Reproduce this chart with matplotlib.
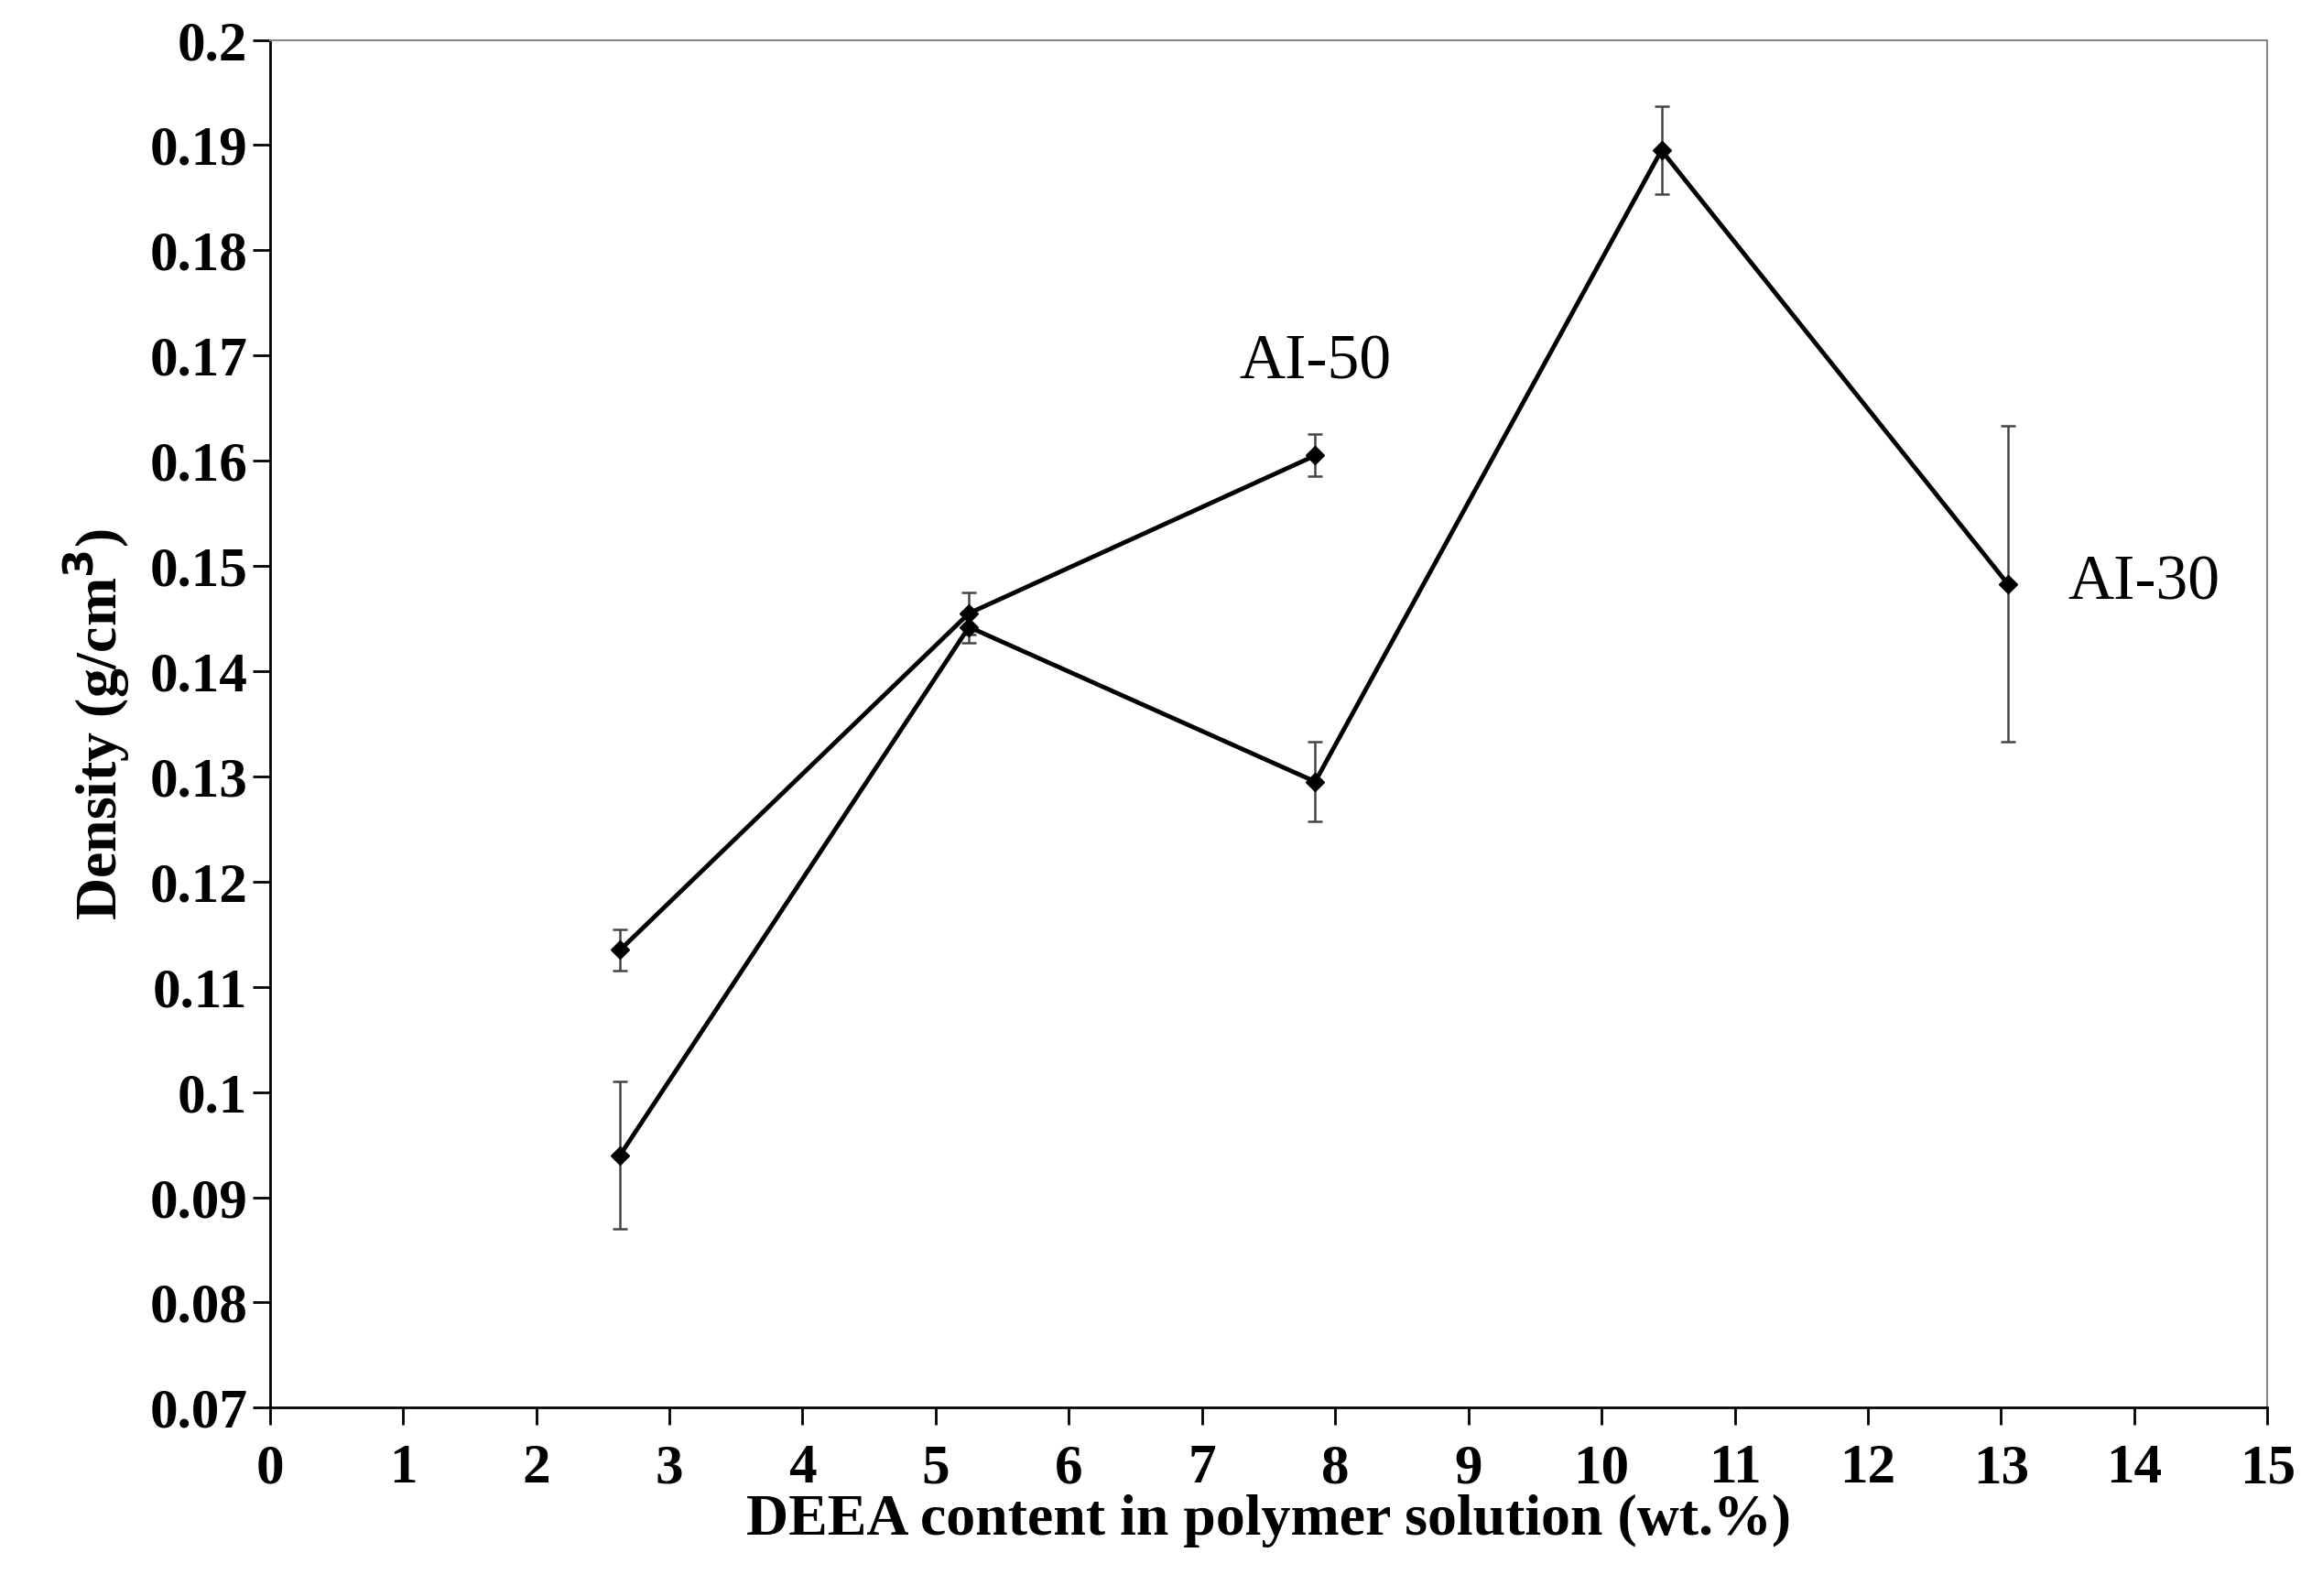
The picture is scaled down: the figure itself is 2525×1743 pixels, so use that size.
import matplotlib.pyplot as plt

# AI-50 series
x_ai50 = [2.63, 5.25, 7.85]
y_ai50 = [0.1135, 0.1455, 0.1605]
e_ai50 = [0.002, 0.002, 0.002]

# AI-30 series
x_ai30 = [2.63, 5.25, 7.85, 10.45, 13.05]
y_ai30 = [0.094, 0.1442, 0.1295, 0.1895, 0.1483]
e_ai30 = [0.007, 0.0015, 0.0038, 0.0042, 0.015]

plt.rcParams['font.family'] = ['Liberation Serif', 'DejaVu Serif']

fig = plt.figure(figsize=(25.25, 17.43), dpi=100)
ax = fig.add_axes([0.1167, 0.118, 0.864, 0.857])

for xs, ys, es in [(x_ai50, y_ai50, e_ai50), (x_ai30, y_ai30, e_ai30)]:
    ax.errorbar(xs, ys, yerr=es, color='black', linewidth=3.5, marker='D',
                markersize=10, ecolor='#444444', elinewidth=1.8, capsize=6, capthick=1.8)

ax.text(7.85, 0.1665, 'AI-50', fontsize=50, ha='center', va='bottom')
ax.text(13.5, 0.1483, 'AI-30', fontsize=50, ha='left', va='center')

ax.set_xlim(0, 15)
ax.set_ylim(0.07, 0.2)
ax.set_xticks(range(0, 16))
ax.set_yticks([0.07 + 0.01 * i for i in range(14)])
ax.set_yticklabels(['%g' % round(0.07 + 0.01 * i, 2) for i in range(14)])
ax.tick_params(labelsize=44, width=2, length=14, direction='out')
ax.tick_params(axis='x', pad=14)
for lbl in ax.get_xticklabels() + ax.get_yticklabels():
    lbl.set_fontweight('bold')
for s in ['top', 'right']:
    ax.spines[s].set_color('#888888')
    ax.spines[s].set_linewidth(1.5)
for s in ['left', 'bottom']:
    ax.spines[s].set_linewidth(2)

ax.set_xlabel('DEEA content in polymer solution (wt.%)', fontsize=46, fontweight='bold', labelpad=0)
ax.set_ylabel('Density (g/cm$^\\mathbf{3}$)', fontsize=46, fontweight='bold', labelpad=14)

fig.savefig('out.png', dpi=100)
